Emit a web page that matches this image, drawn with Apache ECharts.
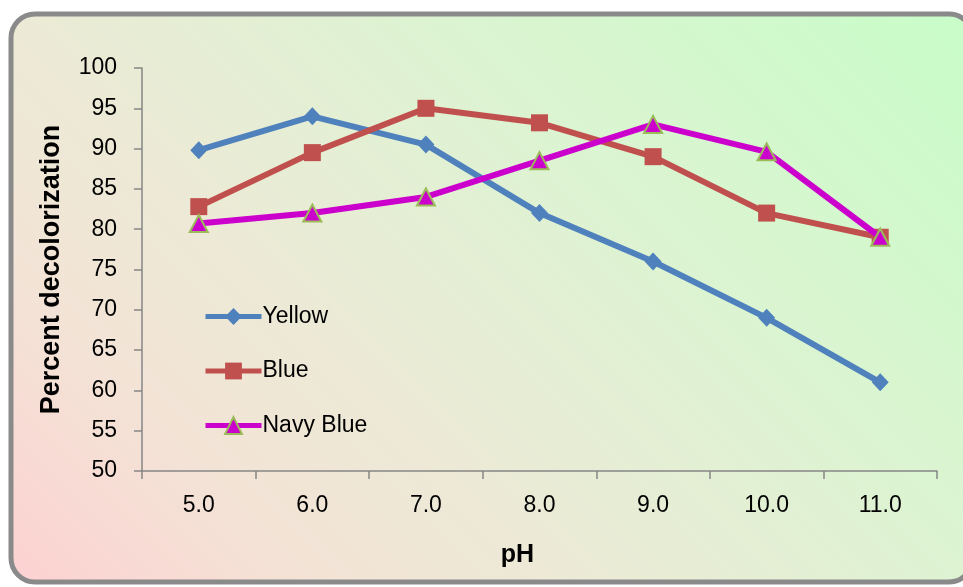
<!DOCTYPE html>
<html>
<head>
<meta charset="utf-8">
<script src="https://cdn.jsdelivr.net/npm/echarts@6/dist/echarts.min.js"></script>
<style>
  html, body { margin: 0; padding: 0; background: #ffffff; }
  #chart { width: 963px; height: 587px; }
</style>
</head>
<body>
<div id="chart"></div>
<script>
var categories = ['5.0', '6.0', '7.0', '8.0', '9.0', '10.0', '11.0'];
var yellow = [89.8, 94.0, 90.5, 82.0, 76.0, 69.0, 61.0];
var blue = [82.8, 89.5, 95.0, 93.2, 89.0, 82.0, 79.0];
var navyBlue = [80.7, 82.0, 84.0, 88.5, 93.0, 89.6, 79.0];
var seriesNames = ['Yellow', 'Blue', 'Navy Blue'];
var yMin = 50, yMax = 100, yStep = 5;
var xTitle = 'pH';
var yTitle = 'Percent decolorization';

var chart = echarts.init(document.getElementById('chart'), null, { renderer: 'canvas' });
var tickFont = 'Liberation Sans, Arial, sans-serif';

var option = {
  animation: false,
  graphic: [{
    type: 'rect',
    z: -10,
    silent: true,
    shape: { x: 11, y: 14, width: 962, height: 568, r: 24 },
    style: {
      fill: new echarts.graphic.LinearGradient(11, 582, 776, -183, [
        { offset: 0, color: '#fdd2d2' },
        { offset: 0.2, color: '#f3e3d6' },
        { offset: 0.37, color: '#ecead6' },
        { offset: 0.63, color: '#ddf3d2' },
        { offset: 1, color: '#c8fdc8' }
      ], true),
      stroke: '#8a8a8a',
      lineWidth: 5
    }
  }],
  grid: { left: 142, right: 26, top: 68, bottom: 116, containLabel: false },
  legend: {
    orient: 'vertical',
    left: 203,
    top: 305,
    padding: 0,
    itemWidth: 56,
    itemHeight: 21,
    itemGap: 31.5,
    lineStyle: { width: 5 },
    textStyle: { fontFamily: tickFont, fontSize: 23, color: '#000000', padding: [0, 0, 0, -4] },
    data: seriesNames
  },
  xAxis: {
    type: 'category',
    data: categories,
    boundaryGap: true,
    name: xTitle,
    nameLocation: 'middle',
    nameGap: 72,
    nameTextStyle: { fontFamily: tickFont, fontSize: 25, fontWeight: 'bold', color: '#000000', padding: [0, 44, 0, 0] },
    axisLine: { lineStyle: { color: '#868686', width: 1.5 } },
    axisTick: { show: true, length: 8, inside: false, alignWithLabel: false, lineStyle: { color: '#868686', width: 1.5 } },
    axisLabel: { margin: 23, fontFamily: tickFont, fontSize: 23, color: '#000000' },
    splitLine: { show: false }
  },
  yAxis: {
    type: 'value',
    min: yMin,
    max: yMax,
    interval: yStep,
    name: yTitle,
    nameLocation: 'middle',
    nameRotate: 90,
    nameGap: 77,
    nameTextStyle: { fontFamily: tickFont, fontSize: 27, fontWeight: 'bold', color: '#000000' },
    axisLine: { show: true, lineStyle: { color: '#868686', width: 1.5 } },
    axisTick: { show: true, length: 8, inside: false, lineStyle: { color: '#868686', width: 1.5 } },
    axisLabel: { margin: 25, fontFamily: tickFont, fontSize: 23, color: '#000000' },
    splitLine: { show: false }
  },
  series: [
    {
      name: seriesNames[0],
      type: 'line',
      data: yellow,
      symbol: 'diamond',
      symbolSize: [17, 18],
      lineStyle: { color: '#4f81bd', width: 6 },
      itemStyle: { color: '#4f81bd' },
      z: 2
    },
    {
      name: seriesNames[1],
      type: 'line',
      data: blue,
      symbol: 'rect',
      symbolSize: 17,
      lineStyle: { color: '#c0504d', width: 6 },
      itemStyle: { color: '#c0504d' },
      z: 3
    },
    {
      name: seriesNames[2],
      type: 'line',
      data: navyBlue,
      symbol: 'triangle',
      symbolSize: [18, 17],
      lineStyle: { color: '#cc00cc', width: 6 },
      itemStyle: { color: '#cc00cc', borderColor: '#9bbb59', borderWidth: 2 },
      z: 4
    }
  ]
};
chart.setOption(option);
</script>
</body>
</html>
